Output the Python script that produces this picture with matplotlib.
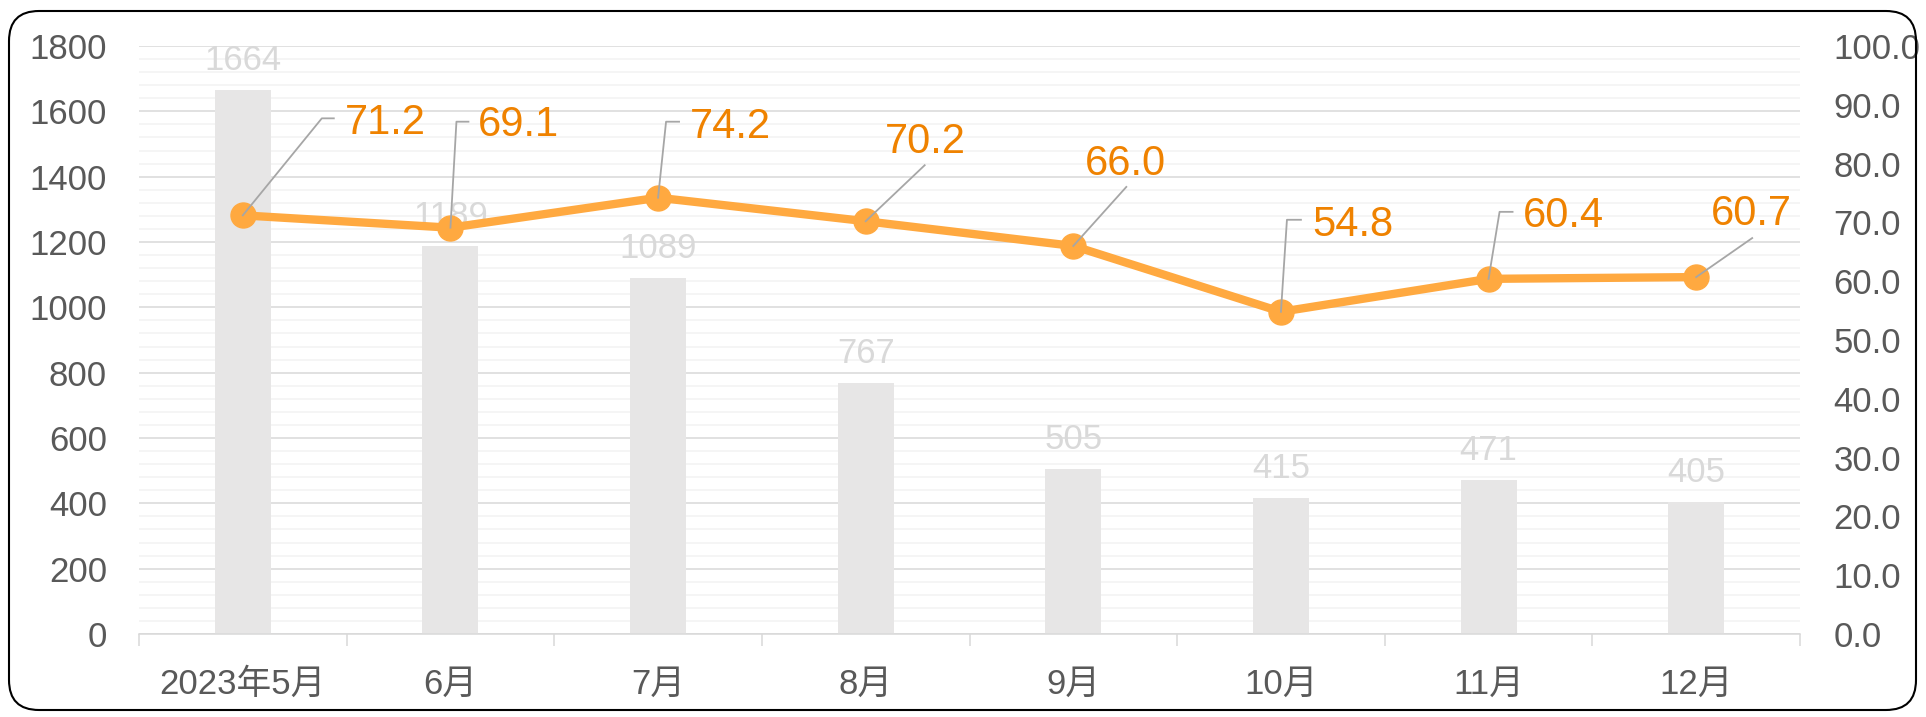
import matplotlib
matplotlib.use("Agg")
import matplotlib.pyplot as plt
import numpy as np
from matplotlib.patches import FancyBboxPatch
from matplotlib.lines import Line2D
from matplotlib.transforms import Affine2D

plt.rcParams["font.family"] = ["Liberation Sans", "Noto Sans CJK SC", "DejaVu Sans"]

months = ["2023年5月", "6月", "7月", "8月", "9月", "10月", "11月", "12月"]
counts = [1664, 1189, 1089, 767, 505, 415, 471, 405]
rates = [71.2, 69.1, 74.2, 70.2, 66.0, 54.8, 60.4, 60.7]

# label layout (pixel offsets from each point): leader vertices, text anchor, alignment
LEADERS = [
    ([(0, 0), (79, 97), (91, 97)], (102, 96), "left"),
    ([(0, 0), (6, 106), (18, 106)], (27, 106), "left"),
    ([(0, 0), (8, 76), (21, 76)], (32, 75), "left"),
    ([(0, 0), (59, 56)], (60, 83), "center"),
    ([(0, 0), (53, 59)], (52, 86), "center"),
    ([(0, 0), (6, 92), (20, 92)], (31, 91), "left"),
    ([(0, 0), (11, 67), (24, 67)], (34, 67), "left"),
    ([(0, 0), (56, 39)], (55, 67), "center"),
]

W, H = 1926, 717
fig = plt.figure(figsize=(W / 100, H / 100), dpi=100)
ax = fig.add_axes([139 / W, (H - 634) / H, (1800 - 139) / W, (634 - 46) / H])
ax2 = ax.twinx()

x = np.arange(len(months))
ax.bar(x, counts, width=0.27, color="#e7e6e6", zorder=2)
ax.set_xlim(-0.5, len(months) - 0.5)
ax.set_ylim(0, 1800)
ax.set_yticks(np.arange(0, 1801, 200))
ax.set_yticks(np.arange(0, 1801, 40), minor=True)
ax.set_axisbelow(True)
ax.grid(axis="y", which="major", color="#d9d9d9", lw=1.1, zorder=0)
ax.grid(axis="y", which="minor", color="#f2f2f2", lw=1.1, zorder=0)
ax.tick_params(axis="y", which="both", length=0, labelsize=25, labelcolor="#595959", pad=23)

ax.set_xticks(x)
ax.set_xticklabels(months)
ax.set_xticks(np.arange(-0.5, len(months)), minor=True)
ax.tick_params(axis="x", which="major", length=0, labelsize=25, labelcolor="#595959", pad=24)
ax.tick_params(axis="x", which="minor", length=8.6, width=1.1, color="#d9d9d9")

for s in ["top", "left", "right"]:
    ax.spines[s].set_visible(False)
    ax2.spines[s].set_visible(False)
ax2.spines["bottom"].set_visible(False)
ax.spines["bottom"].set_color("#d9d9d9")
ax.spines["bottom"].set_linewidth(1.1)

for xi, c in zip(x, counts):
    ax.annotate(str(c), (xi, c), xytext=(0, 20), textcoords="offset pixels",
                ha="center", va="baseline", fontsize=25, color="#d9d9d9", zorder=3)

ax2.set_ylim(0, 100)
ax2.set_yticks(np.arange(0, 101, 10))
ax2.set_yticklabels([f"{v:.1f}" for v in np.arange(0, 101, 10)])
ax2.tick_params(axis="y", length=0, labelsize=25, labelcolor="#595959", pad=24)
ax2.plot(x, rates, "-o", color="#ffa940", lw=6, ms=18, zorder=3)

for xi, r, (verts, (tx, ty), ha) in zip(x, rates, LEADERS):
    px, py = ax2.transData.transform((xi, r))
    vx, vy = zip(*verts)
    ln = Line2D(vx, vy, color="#a6a6a6", lw=1.3,
                transform=Affine2D().translate(px, py), zorder=5)
    fig.add_artist(ln)
    ax2.annotate(f"{r:.1f}", (xi, r), xytext=(tx, ty - 14.8), textcoords="offset pixels",
                 ha=ha, va="baseline", fontsize=30, color="#ef8200", zorder=6)

border = FancyBboxPatch((9, 7), 1907, 699, boxstyle="round,pad=0,rounding_size=30",
                        transform=None, fill=False, ec="black", lw=1.5)
fig.add_artist(border)

fig.savefig("out.png", dpi=100)
